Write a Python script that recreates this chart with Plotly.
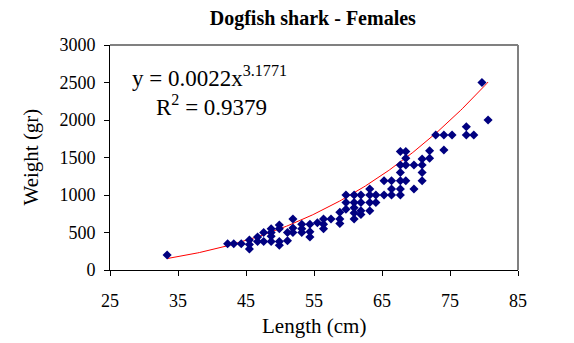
import numpy as np
import plotly.graph_objects as go

# Length (cm) and weight (gr) of female dogfish sharks
length_cm = [
    33.4,
    42.3, 43.2, 44.3,
    45.5, 45.5, 45.5,
    46.7, 46.7,
    47.6, 47.6,
    48.7, 48.7, 48.7, 48.7,
    49.9, 49.9, 49.9, 49.9,
    51.1, 51.1,
    51.9, 51.9, 51.9,
    53.2, 53.2, 53.2,
    54.4, 54.4, 54.4,
    55.5,
    56.4, 56.4, 56.4,
    57.5,
    58.8, 58.8, 58.8,
    59.7, 59.7, 59.7,
    60.9, 60.9, 60.9, 60.9, 60.9,
    61.9, 61.9, 61.9, 61.9,
    63.2, 63.2, 63.2, 63.2,
    64.1, 64.1,
    65.3, 65.3,
    66.4, 66.4, 66.4,
    67.7, 67.7, 67.7, 67.7, 67.7, 67.7,
    68.5, 68.5, 68.5, 68.5,
    69.7, 69.7,
    70.9, 70.9, 70.9, 70.9,
    72.0, 72.0,
    72.9,
    74.1, 74.1,
    75.3,
    77.4, 77.4,
    78.5,
    79.7,
    80.6,
]
weight_gr = [
    200,
    350, 350, 350,
    400, 340, 280,
    440, 380,
    500, 380,
    550, 500, 450, 380,
    600, 550, 380, 330,
    500, 390,
    680, 560, 500,
    610, 550, 500,
    610, 510, 440,
    630,
    680, 610, 550,
    680,
    770, 680, 620,
    1000, 900, 810,
    1000, 900, 830, 760, 680,
    1000, 900, 790, 740,
    1080, 1000, 900, 790,
    1000, 900,
    1190, 1000,
    1190, 1080, 1000,
    1580, 1400, 1300, 1190, 1080, 1000,
    1580, 1490, 1400, 1190,
    1400, 1080,
    1480, 1400, 1300, 1190,
    1590, 1490,
    1800,
    1800, 1600,
    1800,
    1910, 1800,
    1800,
    2500,
    2000,
]

# Power trendline  W = a * L^b
coef_a = 0.0022
coef_b = 3.1771
r_squared = 0.9379

x_ticks = [25, 35, 45, 55, 65, 75, 85]
y_ticks = [0, 500, 1000, 1500, 2000, 2500, 3000]

fit_x = np.linspace(min(length_cm), max(length_cm), 200)
fit_y = coef_a * fit_x ** coef_b

serif = "Liberation Serif, Times New Roman, serif"

fig = go.Figure()
fig.add_trace(go.Scatter(
    x=fit_x, y=fit_y, mode="lines",
    line=dict(color="#ff0000", width=1),
    hoverinfo="skip", showlegend=False,
))
fig.add_trace(go.Scatter(
    x=length_cm, y=weight_gr, mode="markers",
    marker=dict(symbol="diamond", size=7, color="#000080",
                line=dict(width=0)),
    showlegend=False,
))

axis_common = dict(
    showgrid=False, zeroline=False, showline=True, linecolor="black",
    linewidth=1, ticks="outside", ticklen=5, tickcolor="black",
    automargin=False, tickfont=dict(size=18, family=serif),
)

fig.update_layout(
    width=574, height=343,
    margin=dict(l=110, r=56, t=45, b=73),
    paper_bgcolor="white", plot_bgcolor="white",
    font=dict(family=serif, color="black", size=18),
    title=dict(text="<b>Dogfish shark - Females</b>", x=0.545, xanchor="center",
               y=0.947, yanchor="middle", font=dict(size=20, family=serif)),
    xaxis=dict(range=[25, 85], tickvals=x_ticks,
               ticktext=[str(v) for v in x_ticks],
               ticklabelstandoff=9, **axis_common),
    yaxis=dict(range=[0, 3000], tickvals=y_ticks,
               ticktext=[str(v) for v in y_ticks],
               ticklabelstandoff=5, **axis_common),
    shapes=[
        dict(type="line", xref="paper", yref="paper", x0=0, x1=1, y0=1, y1=1,
             line=dict(color="#808080", width=2)),
        dict(type="line", xref="paper", yref="paper", x0=1, x1=1, y0=0, y1=1,
             line=dict(color="#808080", width=2)),
    ],
    annotations=[
        dict(text="Length (cm)", xref="paper", yref="paper", x=0.5, y=0,
             yshift=-56, xanchor="center", yanchor="middle", showarrow=False,
             font=dict(size=21, family=serif)),
        dict(text="Weight (gr)", xref="paper", yref="paper", x=0, y=0.5,
             xshift=-80, xanchor="center", yanchor="middle", showarrow=False,
             textangle=-90, font=dict(size=21, family=serif)),
        dict(text=f"y = {coef_a}x<sup>{coef_b}</sup>", xref="paper", yref="paper",
             x=0.05, y=0.858, xanchor="left", yanchor="middle", showarrow=False,
             font=dict(size=23, family=serif)),
        dict(text=f"R<sup>2</sup> = {r_squared}", xref="paper", yref="paper",
             x=0.108, y=0.733, xanchor="left", yanchor="middle", showarrow=False,
             font=dict(size=23, family=serif)),
    ],
)

fig.write_html("out.html")
